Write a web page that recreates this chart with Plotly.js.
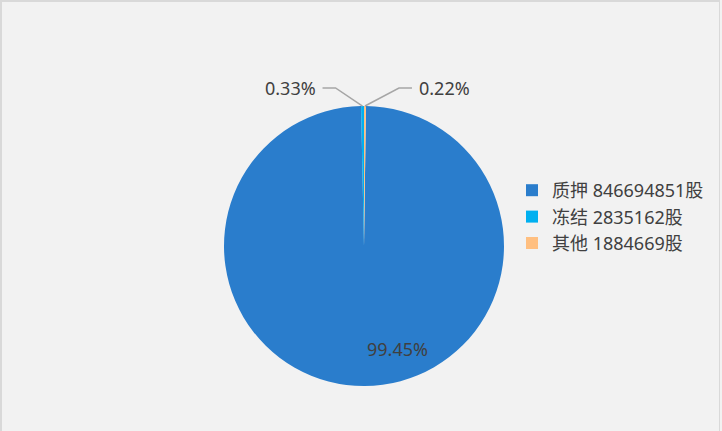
<!DOCTYPE html>
<html><head><meta charset="utf-8">
<script src="https://cdn.plot.ly/plotly-3.0.1.min.js"></script>
<style>
html,body{margin:0;padding:0;background:#f2f2f2;}
#wrap{position:absolute;left:0;top:0;width:720px;height:431px;border-left:2px solid #d9d9d9;border-top:2px solid #d9d9d9;border-right:1px solid #d9d9d9;box-sizing:border-box;overflow:hidden;}
#chart{position:absolute;left:-2px;top:-2px;width:722px;height:431px;}
</style></head>
<body><div id="wrap"><div id="chart"></div></div>
<script>
var categories = ['质押', '冻结', '其他'];
var shares = [846694851, 2835162, 1884669];
var unit = '股';
var colors = ['#2a7dcc', '#00b0f0', '#ffbf80'];

var W = 722, H = 431;
var cx = 364, cy = 246, r = 140;
var total = shares.reduce(function(a,b){return a+b;},0);
var pcts = shares.map(function(v){return (v/total*100).toFixed(2)+'%';});
var lastFrac = shares[shares.length-1]/total;
var rotation = lastFrac*360;

function px(x){return x/W;}
function py(y){return 1-y/H;}

var starts = [], acc = rotation;
shares.forEach(function(v){starts.push(acc); acc += v/total*360;});
function mid(i){return starts[i] + shares[i]/total*180;}
function edge(i){var a=mid(i)*Math.PI/180; return [cx + r*Math.sin(a), cy - r*Math.cos(a)];}

var shapes = [], annotations = [];
var lineColor = '#a6a6a6';
var fs = 18;
[1,2].forEach(function(i){
  var e = edge(i);
  var left = (mid(i) % 360) > 180;
  var ex = left ? e[0]-27 : e[0]+34;
  var ey = 88;
  var hx = left ? ex-13 : ex+13;
  shapes.push({type:'path', xref:'paper', yref:'paper',
    path:'M'+px(e[0])+','+py(e[1])+' L'+px(ex)+','+py(ey)+' L'+px(hx)+','+py(ey),
    line:{color:lineColor, width:1.5}});
  annotations.push({xref:'paper', yref:'paper', x:px(left?hx-5:hx+5), y:py(ey),
    xanchor:left?'right':'left', yanchor:'middle', text:pcts[i], showarrow:false,
    font:{size:fs, color:'#404040'}});
});
annotations.push({xref:'paper', yref:'paper', x:px(397), y:py(349), xanchor:'center', yanchor:'middle',
  text:pcts[0], showarrow:false, font:{size:fs, color:'#404040'}});

var trace = {
  type:'pie',
  labels: categories.map(function(c,i){return c+' '+shares[i]+unit;}),
  values: shares,
  sort:false,
  direction:'clockwise',
  rotation: rotation,
  marker:{colors:colors, line:{width:0}},
  textinfo:'none',
  hoverinfo:'none',
  domain:{x:[px(cx-r), px(cx+r)], y:[py(cy+r), py(cy-r)]}
};

var layout = {
  width:W, height:H,
  margin:{l:0,r:0,t:0,b:0},
  paper_bgcolor:'#f2f2f2',
  plot_bgcolor:'#f2f2f2',
  font:{family:'"Noto Sans", "Noto Sans CJK SC", sans-serif', color:'#404040', size:fs},
  showlegend:true,
  legend:{x:px(512), y:py(172), xanchor:'left', yanchor:'top', bgcolor:'rgba(0,0,0,0)',
    font:{size:fs, color:'#404040'}, itemwidth:30},
  shapes:shapes,
  annotations:annotations
};
Plotly.newPlot('chart', [trace], layout, {displayModeBar:false, staticPlot:true});
</script></body></html>
